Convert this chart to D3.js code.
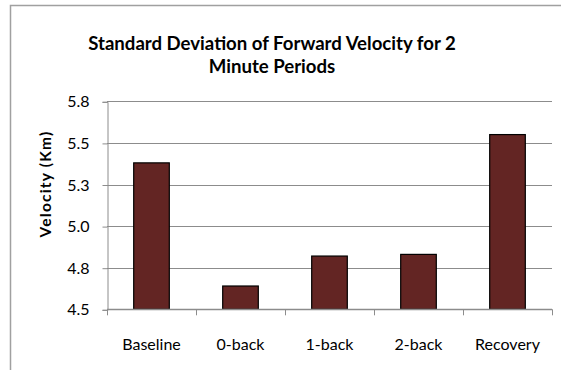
<!DOCTYPE html>
<html>
<head>
<meta charset="utf-8">
<script src="https://cdn.jsdelivr.net/npm/d3@7"></script>
<style>
  html, body { margin: 0; padding: 0; background: #fff; }
  svg { display: block; }
</style>
</head>
<body>
<script>
// Standard deviation of forward velocity per 2-minute period
const categories = ["Baseline", "0-back", "1-back", "2-back", "Recovery"];
const values = [5.38, 4.64, 4.82, 4.83, 5.55];
const yTicks = [4.5, 4.75, 5.0, 5.25, 5.5, 5.75];
const yTickLabels = ["4.5", "4.8", "5.0", "5.3", "5.5", "5.8"];

const W = 561, H = 370;
const plot = { left: 107, right: 552, top: 101.3, bottom: 309.3 };
const font = "Lato, 'Open Sans', 'DejaVu Sans', sans-serif";

const svg = d3.select("body").append("svg")
  .attr("width", W).attr("height", H);

// Chart frame (top and left edges visible)
svg.append("path")
  .attr("d", `M10.5,${H} L10.5,5.5 L${W},5.5`)
  .attr("fill", "none").attr("stroke", "#a0a0a0").attr("stroke-width", 1.5);

const x = d3.scaleBand().domain(categories)
  .range([plot.left, plot.right]).paddingInner(0.6).paddingOuter(0.3);
const y = d3.scaleLinear().domain([4.5, 5.75]).range([plot.bottom, plot.top]);

// Horizontal gridlines
svg.append("g").selectAll("line").data(yTicks.slice(1)).join("line")
  .attr("x1", plot.left).attr("x2", plot.right)
  .attr("y1", d => Math.round(y(d)) + 0.5).attr("y2", d => Math.round(y(d)) + 0.5)
  .attr("stroke", "#8c8c8c").attr("stroke-width", 1);

// Y axis
const yAxis = svg.append("g")
  .attr("transform", `translate(${plot.left + 0.5},0.5)`)
  .call(d3.axisLeft(y).tickValues(yTicks).tickSize(5).tickPadding(13)
    .tickFormat((d, i) => yTickLabels[i]));
yAxis.select(".domain").attr("stroke", "#8c8c8c");
yAxis.selectAll(".tick line").attr("stroke", "#8c8c8c");
yAxis.selectAll("text").attr("font-family", font).attr("font-size", 16).attr("fill", "#000");

// Bars
svg.append("g").selectAll("rect").data(values).join("rect")
  .attr("x", (d, i) => x(categories[i]))
  .attr("y", d => y(d))
  .attr("width", x.bandwidth())
  .attr("height", d => y(4.5) - y(d))
  .attr("fill", "#632523")
  .attr("stroke", "#000").attr("stroke-width", 1.2);

// X axis with boundary ticks between categories
const xEdges = d3.range(categories.length + 1)
  .map(i => plot.left + i * (plot.right - plot.left) / categories.length);
const xAxis = svg.append("g");
xAxis.append("line")
  .attr("x1", plot.left).attr("x2", plot.right)
  .attr("y1", Math.round(plot.bottom) + 0.5).attr("y2", Math.round(plot.bottom) + 0.5)
  .attr("stroke", "#8c8c8c").attr("stroke-width", 1.5);
xAxis.selectAll("line.tick").data(xEdges).join("line")
  .attr("class", "tick")
  .attr("x1", d => Math.round(d) + 0.5).attr("x2", d => Math.round(d) + 0.5)
  .attr("y1", plot.bottom).attr("y2", plot.bottom + 6)
  .attr("stroke", "#8c8c8c");
xAxis.selectAll("text").data(categories).join("text")
  .attr("x", d => x(d) + x.bandwidth() / 2)
  .attr("y", 349.5)
  .attr("text-anchor", "middle")
  .attr("font-family", font).attr("font-size", 16).attr("fill", "#000")
  .text(d => d);

// Title
const title = svg.append("text")
  .attr("text-anchor", "middle")
  .attr("font-family", font).attr("font-size", 18.6).attr("font-weight", "bold")
  .attr("fill", "#000");
title.append("tspan").attr("x", 272).attr("y", 50)
  .text("Standard Deviation of Forward Velocity for 2");
title.append("tspan").attr("x", 272).attr("y", 73)
  .text("Minute Periods");

// Y axis title
svg.append("text")
  .attr("transform", "translate(51,184) rotate(-90)")
  .attr("text-anchor", "middle")
  .attr("font-family", font).attr("font-size", 15.5).attr("font-weight", "bold")
  .attr("letter-spacing", 1.2)
  .attr("fill", "#000")
  .text("Velocity (Km)");
</script>
</body>
</html>
